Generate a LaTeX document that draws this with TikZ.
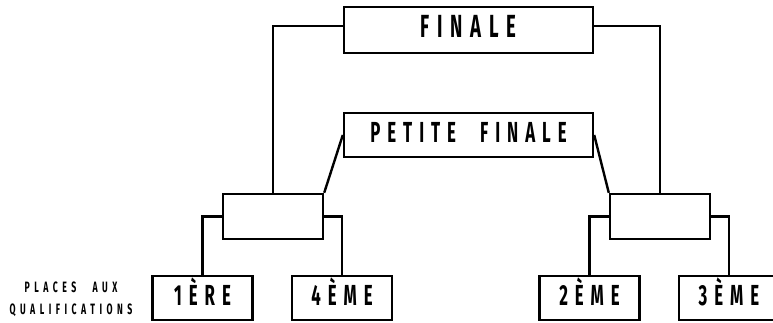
\documentclass[tikz,border=0pt]{standalone}
\usepackage{fontspec}
\newfontfamily\bracketfont[FakeStretch=0.58,LetterSpace=24,WordSpace=2.2]{Fira Sans}
\newfontfamily\notefont[FakeStretch=0.58,LetterSpace=30,WordSpace=2.5]{Fira Sans}
\usetikzlibrary{calc}

\begin{document}
\begin{tikzpicture}[x=1pt,y=-1pt,line width=2.4pt,
    slot/.style={draw,line width=2.4pt,inner sep=0pt,
        minimum width=100pt,minimum height=45pt,
        text height=15pt,text depth=0pt,
        font=\bracketfont\bfseries\fontsize{29}{31}\selectfont},
    wide/.style={slot,minimum width=249pt}]

\useasboundingbox (0,0) rectangle (773,322);

% finals
\node[wide,minimum height=46pt,
    font=\bracketfont\bfseries\fontsize{32}{34}\selectfont] (fin) at (468.5,30) {FINALE};

\node[wide,minimum height=44pt] (petite) at (468.5,135) {PETITE FINALE};

% semi-finals
\node[slot] (semil) at (273,216.5) {};

\node[slot] (semir) at (660,216.5) {};

% places from the qualifications
\node[slot,minimum height=44pt] (q1) at (202.5,298) {1ÈRE};

\node[slot,minimum height=44pt] (q4) at (342,298) {4ÈME};

\node[slot,minimum height=44pt] (q2) at (589.5,298) {2ÈME};

\node[slot,minimum height=44pt] (q3) at (729,298) {3ÈME};

\node[align=center,font=\notefont\bfseries\fontsize{15}{22}\selectfont]
    (quals) at (71,299) {PLACES AUX\\QUALIFICATIONS};

% winners go up, losers go to the petite finale
\draw (semil.north) |- ($(fin.west)+(0,-4)$);

\draw (semir.north) |- ($(fin.east)+(0,-4)$);

\draw (petite.west) -- (semil.north east);

\draw (petite.east) -- (semir.north west);

% qualified teams into the semi-finals
\draw (semil.west) -| (q1.north);

\draw (semil.east) -| (q4.north);

\draw (semir.west) -| (q2.north);

\draw (semir.east) -| (q3.north);

\end{tikzpicture}
\end{document}
